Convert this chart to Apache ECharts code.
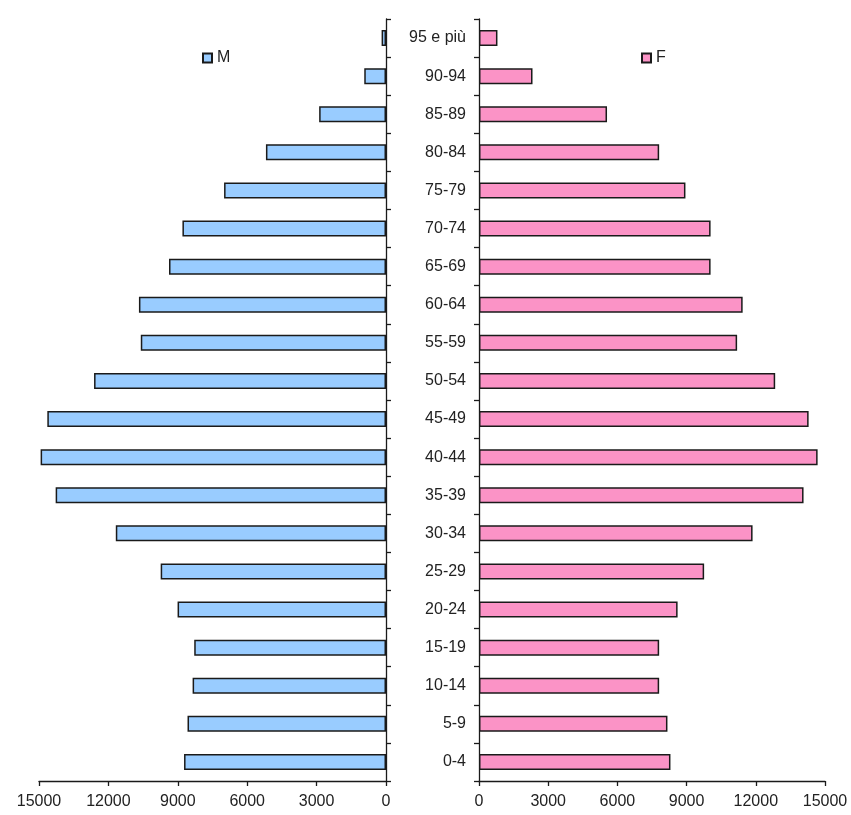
<!DOCTYPE html>
<html>
<head>
<meta charset="utf-8">
<title>Piramide delle età</title>
<script src="https://cdn.jsdelivr.net/npm/echarts@6/dist/echarts.min.js"></script>
<style>
  html, body { margin: 0; padding: 0; background: #ffffff; }
  #chart { width: 851px; height: 815px; }
</style>
</head>
<body>
<div id="chart"></div>
<script>
// Age classes, youngest first (bottom of the pyramid)
const ageClasses = ['0-4', '5-9', '10-14', '15-19', '20-24', '25-29', '30-34', '35-39',
  '40-44', '45-49', '50-54', '55-59', '60-64', '65-69', '70-74', '75-79', '80-84',
  '85-89', '90-94', '95 e più'];

// Residents per age class
const maschi = [8730, 8580, 8360, 8290, 9010, 9740, 11680, 14280, 14930, 14640,
  12620, 10600, 10680, 9380, 8800, 7000, 5190, 2890, 940, 190];
const femmine = [8300, 8170, 7810, 7810, 8610, 9760, 11860, 14070, 14680, 14290,
  12840, 11190, 11430, 10040, 10040, 8950, 7810, 5550, 2320, 800];

// Value axis ticks
const axisMax = 15000;
const axisStep = 3000;

const textFont = 'Liberation Sans, Arial, sans-serif';
const textColor = '#222222';
const lineColor = '#1a1a1a';

const chart = echarts.init(document.getElementById('chart'), null, { renderer: 'canvas' });

function valueAxis(gridIndex, inverse) {
  return {
    type: 'value',
    gridIndex: gridIndex,
    inverse: inverse,
    min: 0,
    max: axisMax,
    interval: axisStep,
    axisLine: { show: true, lineStyle: { color: lineColor, width: 1.3 } },
    axisTick: { show: true, length: 5, lineStyle: { color: lineColor, width: 1.3 } },
    splitLine: { show: false },
    axisLabel: {
      color: textColor,
      fontFamily: textFont,
      fontSize: 16,
      margin: 13,
      formatter: function (v) { return String(v); }
    }
  };
}

function categoryAxis(gridIndex, position, showLabels) {
  return {
    type: 'category',
    gridIndex: gridIndex,
    position: position,
    data: ageClasses,
    axisLine: { show: true, lineStyle: { color: lineColor, width: 1.3 } },
    axisTick: { show: true, length: 5, lineStyle: { color: lineColor, width: 1.3 } },
    axisLabel: {
      show: showLabels,
      color: textColor,
      fontFamily: textFont,
      fontSize: 16,
      margin: 13
    }
  };
}

const legendText = { color: textColor, fontSize: 16, fontFamily: textFont };

const option = {
  backgroundColor: '#ffffff',
  animation: false,
  textStyle: { fontFamily: textFont },
  legend: [
    { data: ['M'], left: 197, top: 45, itemWidth: 9, itemHeight: 9, icon: 'rect', textStyle: legendText },
    { data: ['F'], left: 636, top: 45, itemWidth: 9, itemHeight: 9, icon: 'rect', textStyle: legendText }
  ],
  grid: [
    { left: 39, top: 19, width: 347, height: 762 },
    { left: 479, top: 19, width: 346, height: 762 }
  ],
  xAxis: [valueAxis(0, true), valueAxis(1, false)],
  yAxis: [categoryAxis(0, 'right', false), categoryAxis(1, 'left', true)],
  series: [
    {
      name: 'M',
      type: 'bar',
      xAxisIndex: 0,
      yAxisIndex: 0,
      data: maschi,
      barWidth: 16,
      itemStyle: { color: '#99ccff', borderColor: lineColor, borderWidth: 1.5 }
    },
    {
      name: 'F',
      type: 'bar',
      xAxisIndex: 1,
      yAxisIndex: 1,
      data: femmine,
      barWidth: 16,
      itemStyle: { color: '#fb93c6', borderColor: lineColor, borderWidth: 1.5 }
    }
  ]
};

chart.setOption(option);
</script>
</body>
</html>
